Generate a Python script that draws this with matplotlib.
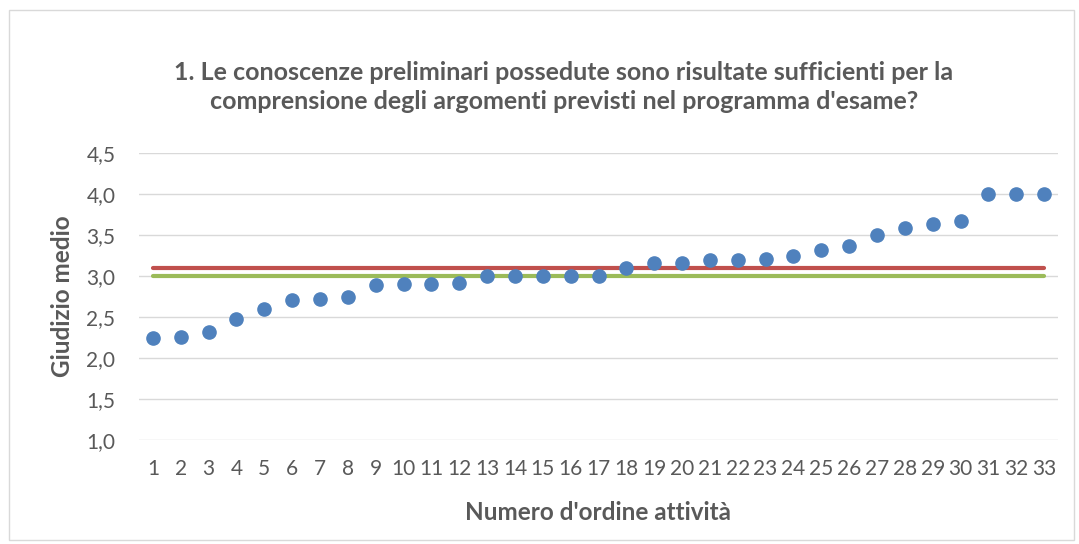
import matplotlib.pyplot as plt
from matplotlib.patches import Rectangle

attivita = list(range(1, 34))
giudizio = [2.25, 2.26, 2.32, 2.47, 2.60, 2.71, 2.72, 2.74, 2.89, 2.90,
            2.90, 2.92, 3.00, 3.00, 3.00, 3.00, 3.00, 3.10, 3.16, 3.16,
            3.19, 3.20, 3.21, 3.25, 3.32, 3.37, 3.50, 3.59, 3.63, 3.67,
            4.00, 4.00, 4.00]
media = 3.10
soglia = 3.0
yticks = [1.0, 1.5, 2.0, 2.5, 3.0, 3.5, 4.0, 4.5]

plt.rcParams.update({'font.family': ['Lato', 'DejaVu Sans']})
grey = '#595959'

fig = plt.figure(figsize=(10.79, 5.44), dpi=100)
ax = fig.add_axes([139 / 1079, 1 - 440 / 544, 919 / 1079, 287 / 544])

ax.plot([attivita[0], attivita[-1]], [media, media], color='#c0504d', linewidth=3, solid_capstyle='round', zorder=2)
ax.plot([attivita[0], attivita[-1]], [soglia, soglia], color='#9bbb59', linewidth=3, solid_capstyle='round', zorder=2)
ax.plot(attivita, giudizio, linestyle='none', marker='o', markersize=9.5, color='#4f81bd', zorder=3)

ax.set_xlim(0.5, 33.5)
ax.set_ylim(1.0, 4.5)
ax.set_xticks(attivita)
ax.set_yticks(yticks)
ax.set_yticklabels(['{:.1f}'.format(v).replace('.', ',') for v in yticks])
ax.grid(axis='y', color='#d9d9d9', linewidth=1)
ax.set_axisbelow(True)
for s in ax.spines.values():
    s.set_visible(False)
ax.tick_params(length=0, labelsize=15, colors=grey)
ax.tick_params(axis='y', pad=17)
ax.tick_params(axis='x', pad=14)

ax.set_xlabel("Numero d'ordine attività", fontsize=17.5, fontweight='bold', color=grey)
ax.set_ylabel('Giudizio medio', fontsize=17.5, fontweight='bold', color=grey)
ax.xaxis.set_label_coords((598 - 139) / 919, -(513 - 440) / 287)
ax.yaxis.set_label_coords(-(139 - 62) / 919, 0.5)
ax.xaxis.label.set_va('center')
ax.yaxis.label.set_va('center')
fig.text(564 / 1079, 1 - 87 / 544,
         "1. Le conoscenze preliminari possedute sono risultate sufficienti per la\n"
         "comprensione degli argomenti previsti nel programma d'esame?",
         ha='center', va='center', fontsize=18, fontweight='bold', color=grey, linespacing=1.35)

fig.patches.append(Rectangle((9 / 1079, 4 / 544), 1065 / 1079, 530 / 544, transform=fig.transFigure,
                             fill=False, edgecolor='#d9d9d9', linewidth=1))

plt.savefig('out.png', dpi=100)
